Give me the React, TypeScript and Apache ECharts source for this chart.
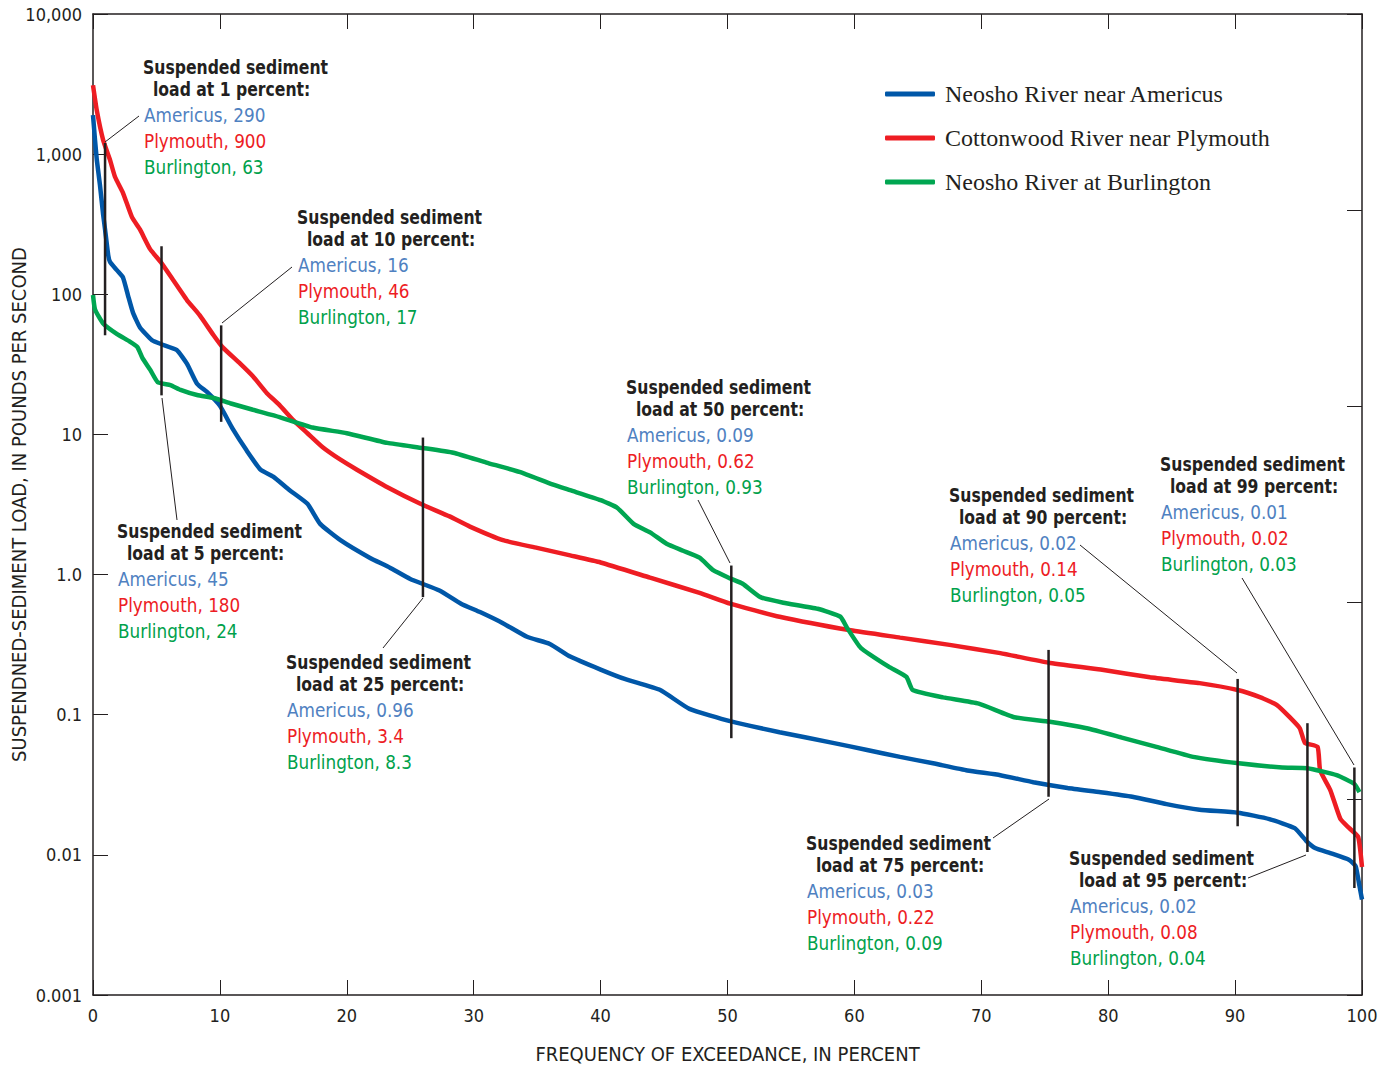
import { useEffect, useRef } from "react";
import * as echarts from "echarts";

// ---------- DATA ----------
// Flow-duration style curves: frequency of exceedance (percent) vs suspended-sediment load (lb/s)
const americusPct = [0, 0.16, 0.3, 0.55, 0.8, 0.95, 1.2, 1.34, 1.9, 2.36, 2.76, 3.15, 3.7, 4.65, 5.4, 6.6, 7.4, 8.2, 9.0, 10, 11.0, 12.1, 13.2, 14.2, 15.5, 16.9, 17.9, 19.5, 21.8, 23.4, 25.0, 27.3, 29.0, 30.5, 32.3, 34.2, 36.0, 37.6, 40.0, 41.9, 44.7, 47.0, 50.2, 54.1, 58.3, 61.0, 63.6, 66.2, 68.9, 71.5, 74.1, 76.8, 79.4, 81.9, 84.6, 87.2, 90.2, 92.7, 94.7, 95.6, 96.3, 97.5, 99.0, 99.5, 99.8, 100];
const americusLoad = [1900, 1260, 910, 600, 370, 290, 190, 170, 148, 132, 98, 74, 58, 47, 44, 40, 32, 23, 20, 16, 11, 7.7, 5.6, 5.0, 4.0, 3.2, 2.3, 1.76, 1.32, 1.12, 0.93, 0.77, 0.62, 0.54, 0.45, 0.36, 0.32, 0.26, 0.21, 0.18, 0.15, 0.11, 0.09, 0.075, 0.063, 0.056, 0.05, 0.045, 0.04, 0.037, 0.033, 0.03, 0.028, 0.026, 0.023, 0.021, 0.02, 0.018, 0.0155, 0.0126, 0.0112, 0.0103, 0.0092, 0.0083, 0.006, 0.0048];

const plymouthPct = [0, 0.3, 0.8, 1.34, 1.73, 2.36, 3.07, 3.7, 4.5, 5.4, 6.3, 7.4, 8.4, 9.5, 10.2, 11.6, 12.6, 13.7, 14.7, 15.8, 16.9, 18.1, 19.5, 20.8, 23.2, 25.8, 28.1, 29.7, 32.3, 35.0, 37.6, 40.0, 43.9, 47.8, 50.2, 54.1, 59.7, 63.6, 67.5, 71.5, 75.3, 79.4, 83.3, 87.2, 90.2, 92.0, 93.3, 94.3, 95.1, 95.5, 96.5, 96.7, 97.5, 98.3, 99.0, 99.7, 100];
const plymouthLoad = [3100, 2050, 1260, 910, 690, 530, 355, 290, 210, 167, 127, 91, 71, 51, 42, 32, 26, 19.7, 16.2, 12.6, 10.2, 8.1, 6.6, 5.6, 4.2, 3.2, 2.6, 2.2, 1.76, 1.55, 1.37, 1.22, 0.95, 0.74, 0.62, 0.5, 0.4, 0.355, 0.315, 0.275, 0.235, 0.21, 0.185, 0.168, 0.15, 0.133, 0.117, 0.096, 0.08, 0.063, 0.059, 0.04, 0.029, 0.018, 0.0155, 0.0134, 0.0082];

const burlingtonPct = [0, 0.16, 0.8, 1.9, 2.9, 3.5, 3.9, 4.5, 5.1, 6.1, 6.9, 8.2, 9.5, 10.8, 12.6, 14.7, 17.3, 20.0, 23.2, 26.0, 28.4, 31.0, 33.6, 36.2, 37.6, 40.0, 41.3, 42.6, 43.9, 45.2, 46.5, 47.8, 48.9, 50.2, 51.2, 52.6, 54.4, 57.1, 58.9, 59.4, 60.5, 62.7, 64.1, 64.6, 67.0, 69.8, 72.6, 75.4, 78.3, 81.0, 83.8, 86.7, 90.3, 93.7, 95.7, 98.0, 99.4, 99.8];
const burlingtonLoad = [99, 78, 62, 52, 46, 42, 35, 29, 23.6, 22.5, 20.8, 19.1, 18.2, 16.7, 15, 13.3, 11.2, 10.2, 8.7, 8.0, 7.4, 6.3, 5.4, 4.4, 4.0, 3.4, 3.0, 2.3, 2.0, 1.66, 1.48, 1.32, 1.07, 0.94, 0.86, 0.69, 0.63, 0.57, 0.5, 0.42, 0.3, 0.22, 0.186, 0.15, 0.133, 0.12, 0.096, 0.089, 0.08, 0.069, 0.059, 0.05, 0.045, 0.042, 0.0415, 0.037, 0.032, 0.028];

const seriesNames = ["Neosho River near Americus", "Cottonwood River near Plymouth", "Neosho River at Burlington"];

// Annotated exceedance percentages and tabulated loads
const annoPercent = [1, 5, 10, 25, 50, 75, 90, 95, 99];
const annoAmericus = ["290", "45", "16", "0.96", "0.09", "0.03", "0.02", "0.02", "0.01"];
const annoPlymouth = ["900", "180", "46", "3.4", "0.62", "0.22", "0.14", "0.08", "0.02"];
const annoBurlington = ["63", "24", "17", "8.3", "0.93", "0.09", "0.05", "0.04", "0.03"];

// Vertical marker bars (as drawn): x position in percent, load range
const markerX = [0.95, 5.4, 10.1, 26.0, 50.3, 75.3, 90.2, 95.7, 99.4];
const markerTop = [1200, 220, 60, 9.5, 1.16, 0.29, 0.18, 0.087, 0.042];
const markerBottom = [51, 19, 12.3, 0.69, 0.068, 0.026, 0.016, 0.0105, 0.0058];

const yTickLabels: Record<string, string> = {
  "-3": "0.001", "-2": "0.01", "-1": "0.1", "0": "1.0",
  "1": "10", "2": "100", "3": "1,000", "4": "10,000",
};

// ---------- LAYOUT / STYLE ----------
const COND = "'Liberation Sans Narrow', 'DejaVu Sans Condensed', 'Roboto', sans-serif";
const INK = "#231f20";
const LINE_COLORS = ["#0057a8", "#ee1d23", "#00a651"];
const TEXT_COLORS = ["#4f81c1", "#ed1c24", "#00a14b"];
const GRID = { left: 93, top: 14, right: 28, bottom: 72 };

// block anchor (left x, first title line centre y) per annotation
const annoPos = [[143, 67], [117, 531], [297, 217], [286, 662], [626, 387], [806, 843], [949, 495], [1069, 858], [1160, 464]];
// leader lines (pixels)
const leaders = [
  [105, 142, 139, 116],
  [162, 398, 177, 520],
  [222, 323, 292, 267],
  [423, 598, 383, 648],
  [730, 563, 698, 500],
  [1049, 799, 993, 838],
  [1237, 673, 1080, 545],
  [1306, 855, 1248, 878],
  [1354, 765, 1242, 578],
];

function buildOption() {
  const zip = (xs: number[], ys: number[]) => xs.map((x, i) => [x, ys[i]]);
  const curves = [zip(americusPct, americusLoad), zip(plymouthPct, plymouthLoad), zip(burlingtonPct, burlingtonLoad)];

  const graphics: any[] = [];
  annoPercent.forEach((p, i) => {
    const [x, y] = annoPos[i];
    graphics.push({
      type: "text", x, y, scaleX: 0.915,
      style: { text: "Suspended sediment", fontFamily: COND, fontWeight: "bold", fontSize: 19, fill: INK, verticalAlign: "middle" },
    });
    graphics.push({
      type: "text", x: x + 10, y: y + 22, scaleX: 0.915,
      style: { text: `load at ${p} percent:`, fontFamily: COND, fontWeight: "bold", fontSize: 19, fill: INK, verticalAlign: "middle" },
    });
    const vals = [`Americus, ${annoAmericus[i]}`, `Plymouth, ${annoPlymouth[i]}`, `Burlington, ${annoBurlington[i]}`];
    vals.forEach((t, k) => {
      graphics.push({
        type: "text", x: x + 1, y: y + 48 + k * 26, scaleX: 0.96,
        style: { text: t, fontFamily: COND, fontSize: 19.5, fill: TEXT_COLORS[k], verticalAlign: "middle" },
      });
    });
  });
  leaders.forEach((l) => {
    graphics.push({ type: "line", shape: { x1: l[0], y1: l[1], x2: l[2], y2: l[3] }, style: { stroke: INK, lineWidth: 1 }, z: 10 });
  });

  const series: any[] = curves.map((d, i) => ({
    name: seriesNames[i],
    type: "line",
    data: d,
    showSymbol: false,
    symbol: "none",
    smooth: 0.15,
    lineStyle: { color: LINE_COLORS[i], width: 4.5 },
    itemStyle: { color: LINE_COLORS[i] },
    z: 2 + i,
  }));
  markerX.forEach((x, i) => {
    series.push({
      type: "line",
      data: [[x, markerTop[i]], [x, markerBottom[i]]],
      symbol: "none",
      lineStyle: { color: INK, width: 2.5 },
      z: 6,
      silent: true,
    });
  });

  const tickStyle = { show: true, inside: true, length: 15, lineStyle: { color: INK, width: 1 } };
  const lineStyle = { show: true, onZero: false, lineStyle: { color: INK, width: 1.5 } };

  return {
    animation: false,
    backgroundColor: "#ffffff",
    grid: { ...GRID, containLabel: false, outerBoundsMode: "none" },
    legend: {
      data: seriesNames,
      orient: "vertical",
      left: 885,
      top: 82,
      padding: 0,
      itemWidth: 50,
      itemHeight: 5,
      itemGap: 20,
      icon: "roundRect",
      textStyle: { fontFamily: "'Liberation Serif', 'DejaVu Serif', serif", fontSize: 24, lineHeight: 24, color: INK, padding: [0, 0, 0, 5] },
    },
    xAxis: [
      {
        type: "value", min: 0, max: 100, interval: 10,
        name: "FREQUENCY OF EXCEEDANCE, IN PERCENT", nameLocation: "middle", nameGap: 49,
        nameMoveOverlap: false,
        nameTextStyle: { fontFamily: COND, fontSize: 20, color: INK },
        axisLine: lineStyle,
        axisTick: tickStyle,
        axisLabel: { margin: 11, fontFamily: COND, fontSize: 18, color: INK },
        splitLine: { show: false },
      },
      {
        type: "value", min: 0, max: 100, interval: 10, position: "top",
        axisLine: lineStyle,
        axisTick: tickStyle,
        axisLabel: { show: false },
        splitLine: { show: false },
      },
    ],
    yAxis: [
      {
        type: "log", logBase: 10, min: 0.001, max: 10000, position: "left",
        name: "SUSPENDNED-SEDIMENT LOAD, IN POUNDS PER SECOND", nameLocation: "middle", nameGap: 74,
        nameMoveOverlap: false,
        nameTextStyle: { fontFamily: COND, fontSize: 20, color: INK, verticalAlign: "middle" },
        axisLine: lineStyle,
        axisTick: tickStyle,
        axisLabel: {
          margin: 11, fontFamily: COND, fontSize: 18, color: INK,
          formatter: (v: number) => yTickLabels[String(Math.round(Math.log10(v)))] ?? String(v),
        },
        splitLine: { show: false },
        minorTick: { show: false },
      },
      {
        type: "value", min: 0, max: 7, interval: 1.4, position: "right",
        axisLine: lineStyle,
        axisTick: tickStyle,
        axisLabel: { show: false },
        splitLine: { show: false },
      },
    ],
    series,
    graphic: graphics,
  };
}

export default function App() {
  const ref = useRef<HTMLDivElement>(null);
  useEffect(() => {
    const chart = echarts.init(ref.current!, null, { renderer: "svg" });
    chart.setOption(buildOption() as any);
    return () => chart.dispose();
  }, []);
  return (
    <div
      ref={ref}
      style={{ position: "fixed", left: 0, top: 0, width: 1390, height: 1067, background: "#ffffff" }}
    />
  );
}
